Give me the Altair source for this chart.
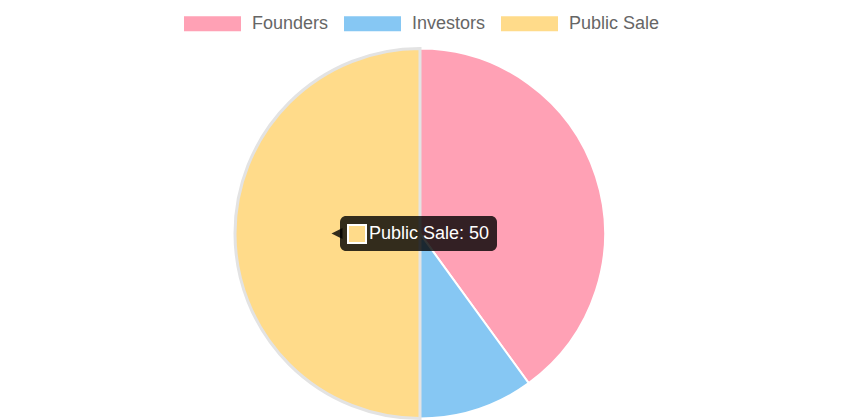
import altair as alt
import pandas as pd

labels = ["Founders", "Investors", "Public Sale"]
values = [40, 10, 50]
colors = ["#FFA1B5", "#86C7F3", "#FFDB8A"]
borders = ["#FFFFFF", "#FFFFFF", "#E3E3E3"]
border_widths = [2, 2, 3]

hover_index = 2

df = pd.DataFrame({
    "label": labels,
    "value": values,
    "border": borders,
    "bw": border_widths,
})

FONT = "Liberation Sans"

pie = alt.Chart(df).mark_arc(radius=185).encode(
    theta=alt.Theta("value:Q", stack=True),
    color=alt.Color(
        "label:N",
        scale=alt.Scale(domain=labels, range=colors),
        sort=labels,
        legend=alt.Legend(
            title=None,
            orient="none",
            direction="horizontal",
            legendX=176,
            legendY=-13,
            symbolType="M-1,-0.263H1V0.263H-1Z",
            symbolSize=3249,
            symbolStrokeWidth=0,
            symbolOpacity=1,
            labelFont=FONT,
            labelFontSize=18,
            labelColor="#666666",
            labelOffset=11,
            columnPadding=15,
            labelLimit=300,
        ),
    ),
    order=alt.Order("value_order:Q"),
    stroke=alt.Stroke("border:N", scale=None),
    strokeWidth=alt.StrokeWidth("bw:Q", scale=None),
    x=alt.value(412),
    y=alt.value(225.5),
).transform_calculate(
    value_order="indexof(['Founders','Investors','Public Sale'], datum.label)"
)

tip_df = pd.DataFrame({
    "text": [f"{labels[hover_index]}: {values[hover_index]}"],
    "swatch": [colors[hover_index]],
})

tip_box = alt.Chart(tip_df).mark_rect(
    cornerRadius=6, color="#000000", opacity=0.8
).encode(
    x=alt.value(332), x2=alt.value(489), y=alt.value(208), y2=alt.value(243)
)

tip_caret = alt.Chart(tip_df).mark_point(
    shape="M1,-1L-1,0L1,1Z", filled=True, size=120, color="#000000", opacity=0.8
).encode(x=alt.value(329), y=alt.value(225.5))

tip_swatch = alt.Chart(tip_df).mark_rect(stroke="#FFFFFF", strokeWidth=2).encode(
    x=alt.value(340), x2=alt.value(358), y=alt.value(217), y2=alt.value(235),
    fill=alt.Fill("swatch:N", scale=None),
)

tip_text = alt.Chart(tip_df).mark_text(
    align="left", baseline="middle", font=FONT, fontSize=18, color="#FFFFFF"
).encode(x=alt.value(361), y=alt.value(226), text="text:N")

chart = alt.layer(pie, tip_box, tip_caret, tip_swatch, tip_text).properties(
    width=825,
    height=412,
    autosize=alt.AutoSizeParams(type="none"),
    padding=0,
).configure_view(stroke=None)

chart.save("out.html", embed_options={"renderer": "svg", "actions": False})
